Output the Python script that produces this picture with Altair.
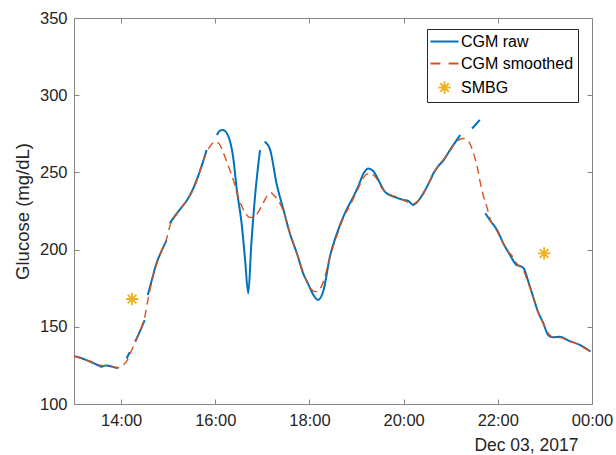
import altair as alt
import pandas as pd

# ---------------- data ----------------
raw_time = [
    "13:00", "13:08", "13:18", "13:27", "13:31", "13:35", "13:40", "13:44", "13:50", "13:56",
    "14:07", "14:11",
    "14:18", "14:24", "14:30",
    "14:34", "14:39", "14:45", "14:51", "14:58",
    "15:02", "15:11", "15:18", "15:24", "15:32", "15:41", "15:49",
    "16:02", "16:06", "16:10", "16:17", "16:23", "16:27", "16:34", "16:38", "16:42", "16:46", "16:51", "16:57",
    "17:03", "17:10", "17:18", "17:27", "17:35", "17:44", "17:52", "17:59", "18:05", "18:11", "18:18",
    "18:26", "18:35", "18:45", "18:56", "19:02", "19:09", "19:15", "19:21", "19:30", "19:36", "19:47",
    "20:00", "20:06", "20:12", "20:21", "20:25", "20:34", "20:38", "20:44", "20:51", "20:59", "21:05", "21:12",
    "21:27", "21:32", "21:37",
    "21:44", "21:50", "21:59", "22:07", "22:15", "22:24", "22:28", "22:33", "22:39", "22:45", "22:51",
    "22:58", "23:04", "23:10", "23:19", "23:30", "23:45", "23:52", "23:58",
]
raw_glucose = [
    131, 130, 128, 126, 125, 124.2, 125, 124.8, 124, 123.3,
    129.5, 133.5,
    140.5, 147, 154.4,
    170.6, 180, 191, 198.5, 206,
    217, 223.5, 228, 232, 239.7, 251.6, 264.5,
    274.2, 277, 277.5, 273, 259, 240.7, 215, 193.3, 171.7, 204, 236.5, 264.5,
    270, 264.5, 243, 225.6, 210.6, 197.6, 184.6, 177, 170.6, 167.4, 173.8,
    195.4, 210.5, 223.5, 234.3, 240.7, 249.4, 252.6, 251.1, 243, 237.5, 234.3,
    232.1, 231.5, 228.9, 233.2, 236.4, 245, 249.4, 254, 258, 264.5, 269, 274.2,
    278.5, 281, 284,
    223.5, 219, 212.7, 204, 197, 190, 189.5, 187.9, 179, 169.5, 160,
    152.3, 144.7, 143.2, 143.6, 141, 138.2, 136, 134,
]
raw_piece = (
    [0] * 10 + [1] * 2 + [2] * 3 + [3] * 5 + [4] * 7 + [5] * 12 + [6] * 34 + [7] * 3 + [8] * 19
)

smooth_time = [
    "13:00", "13:18", "13:35", "13:46", "13:56", "14:02", "14:08", "14:11", "14:18", "14:24",
    "14:30", "14:34", "14:39", "14:45", "14:51", "14:58", "15:02", "15:11", "15:18", "15:24",
    "15:32", "15:38", "15:43", "15:49", "15:55", "16:00", "16:05", "16:10", "16:16", "16:23",
    "16:28", "16:33", "16:38", "16:43", "16:48", "16:53", "17:00", "17:05", "17:11", "17:15",
    "17:20", "17:26", "17:35", "17:43", "17:52", "17:58", "18:03", "18:07", "18:11", "18:16",
    "18:21", "18:26", "18:35", "18:45", "18:52", "19:02", "19:07", "19:12", "19:17", "19:22",
    "19:27", "19:32", "19:36", "19:43", "19:55", "20:04", "20:12", "20:18", "20:25", "20:31",
    "20:38", "20:44", "20:51", "20:59", "21:05", "21:12", "21:16", "21:21", "21:25", "21:29",
    "21:34", "21:37", "21:41", "21:46", "21:50", "21:59", "22:07", "22:13", "22:18", "22:24",
    "22:28", "22:33", "22:39", "22:45", "22:51", "22:58", "23:04", "23:09", "23:14", "23:19",
    "23:26", "23:32", "23:38", "23:45", "23:51", "23:58",
]
smooth_glucose = [
    131, 128, 125, 124.5, 123.5, 125, 128.5, 132, 140, 147,
    156, 167, 179, 190, 198.5, 207, 215, 223, 228, 232,
    239, 247, 255, 263, 268, 270, 268.5, 263, 255, 245,
    236, 229, 224, 221, 220.8, 223, 229, 234, 236.8, 235,
    232, 226, 211, 199, 185.5, 178, 174, 172.8, 173.5, 177,
    185, 195, 209, 222.5, 229, 239.5, 245, 248.5, 249.4, 248,
    245, 240, 237.5, 235.5, 233.5, 231, 229.5, 231.5, 236, 242,
    249, 254, 258.5, 264, 268.5, 271.5, 272, 271, 268, 262.4,
    253, 245, 236, 227.8, 220, 212, 204, 199, 196, 191,
    189, 186, 178, 169.5, 160, 152, 146, 143.5, 143, 143,
    142, 140.5, 139.5, 138, 136, 134,
]

smbg_time = ["14:14", "22:59"]
smbg_glucose = [168, 197.5]

series_names = ["CGM raw", "CGM smoothed", "SMBG"]
series_colors = ["#0072BD", "#D95319", "#EDB120"]
x_tick_hours = [14, 16, 18, 20, 22, 24]
y_ticks = [100, 150, 200, 250, 300, 350]
date_label = "Dec 03, 2017"
y_title = "Glucose (mg/dL)"

# ---------------- build tables ----------------
def stamp(t):
    return f"2017-12-03T{t}:00"

raw_df = pd.DataFrame({
    "time": [stamp(t) for t in raw_time],
    "glucose": raw_glucose,
    "piece": raw_piece,
    "series": series_names[0],
})
smooth_df = pd.DataFrame({
    "time": [stamp(t) for t in smooth_time],
    "glucose": smooth_glucose,
    "series": series_names[1],
})
smbg_df = pd.DataFrame({
    "time": [stamp(t) for t in smbg_time],
    "glucose": smbg_glucose,
    "series": series_names[2],
})


def dt(h):
    if h >= 24:
        return alt.DateTime(year=2017, month=12, date=4, hours=h - 24)
    return alt.DateTime(year=2017, month=12, date=3, hours=h)


x_values = [dt(h) for h in x_tick_hours]
x_scale = alt.Scale(domain=[dt(13), dt(24)], nice=False)
y_scale = alt.Scale(domain=[100, 350], nice=False, zero=False)

FONT = "Liberation Sans"
TXT = "#262626"
AX = "#858585"
inside = {"expr": "-5"}

# legend symbols (custom paths)
line_path = "M-1.87,0L1.87,0"
dash_path = "M-1.87,0L-0.55,0M0.55,0L1.87,0"
star_path = "M0,-0.82L0,0.82M-0.82,0L0.82,0M-0.58,-0.58L0.58,0.58M-0.58,0.58L0.58,-0.58"

legend = alt.Legend(
    title=None, orient="none", legendX=353, legendY=11,
    strokeColor="#262626", fillColor="white", padding=4,
    symbolSize=225, symbolStrokeWidth=2, symbolOffset=5,
    labelOffset=8, labelFont=FONT, labelFontSize=16, labelColor="#000000",
    rowPadding=5, labelLimit=400,
)
color = alt.Color("series:N", scale=alt.Scale(domain=series_names, range=series_colors), legend=legend)
shape = alt.Shape("series:N", scale=alt.Scale(domain=series_names, range=[line_path, dash_path, star_path]), legend=legend)

x_bottom = alt.Axis(
    values=x_values, format="%H:%M", title=date_label, orient="bottom",
    titleX=504, titleY=46, titleAlign="right", titleBaseline="alphabetic",
    titleFont=FONT, titleFontSize=17.5, titleFontWeight="normal", titleColor=TXT,
    labelPadding=13, labelFont=FONT, labelFontSize=16.5, labelColor=TXT,
    tickSize=inside, tickColor=AX, domainColor=AX, grid=False, labelFlush=False,
)
y_left = alt.Axis(
    values=y_ticks, title=y_title, orient="left",
    titleX=-52, titleY=193, titleAngle=270, titleAlign="center", titleBaseline="middle",
    titleFont=FONT, titleFontSize=18.5, titleFontWeight="normal", titleColor=TXT,
    labelPadding=12, labelFont=FONT, labelFontSize=16.5, labelColor=TXT,
    tickSize=inside, tickColor=AX, domainColor=AX, grid=False,
)
x_top = alt.Axis(values=x_values, orient="top", labels=False, title="", tickSize=inside,
                 tickColor=AX, domainColor=AX, grid=False)
y_right = alt.Axis(values=y_ticks, orient="right", labels=False, title="", tickSize=inside,
                   tickColor=AX, domainColor=AX, grid=False)

raw_layer = alt.Chart(raw_df).mark_line(strokeWidth=2, interpolate="monotone", strokeJoin="round").encode(
    x=alt.X("time:T", scale=x_scale, axis=x_bottom),
    y=alt.Y("glucose:Q", scale=y_scale, axis=y_left),
    color=color,
    detail="piece:N",
)
smooth_layer = alt.Chart(smooth_df).mark_line(strokeWidth=1.4, strokeDash=[8, 5], interpolate="monotone").encode(
    x=alt.X("time:T", scale=x_scale, axis=x_top),
    y=alt.Y("glucose:Q", scale=y_scale, axis=y_right),
    color=color,
)
smbg_layer = alt.Chart(smbg_df).mark_point(filled=False, size=225, strokeWidth=1.8, opacity=1).encode(
    x=alt.X("time:T", scale=x_scale, axis=None),
    y=alt.Y("glucose:Q", scale=y_scale, axis=None),
    color=color,
    shape=shape,
)

chart = alt.layer(raw_layer, smooth_layer, smbg_layer).resolve_axis(
    x="independent", y="independent"
).properties(
    width=518, height=386,
    padding={"left": 74, "top": 18, "right": 24, "bottom": 51},
    autosize=alt.AutoSizeParams(type="none"),
    background="white",
).configure_view(strokeWidth=0)

chart.save("out.html", embed_options={"renderer": "svg", "actions": False})
